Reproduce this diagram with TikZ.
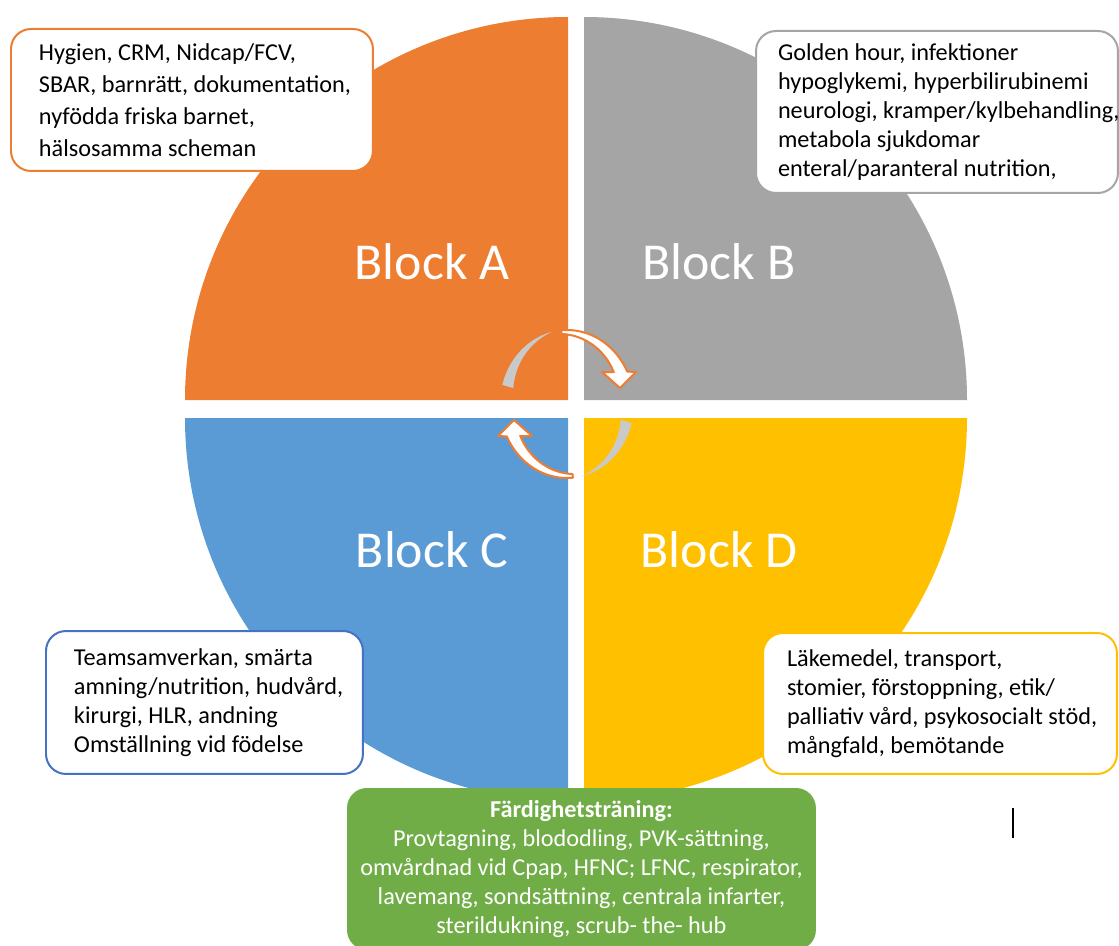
\documentclass[tikz,border=0pt]{standalone}
\usepackage{fontspec}
\setmainfont{Carlito}
\definecolor{blockA}{HTML}{ED7D31}
\definecolor{blockB}{HTML}{A5A5A5}
\definecolor{blockC}{HTML}{5B9BD5}
\definecolor{blockD}{HTML}{FFC000}
\definecolor{boxC}{HTML}{4472C4}
\definecolor{skills}{HTML}{70AD47}
\definecolor{crescent}{HTML}{C9C9C9}

\begin{document}
\begin{tikzpicture}[x=0.02cm, y=-0.02cm,
        topic/.style={draw, line width=0.04cm, rounded corners=0.4cm, fill=white,
            align=left, anchor=north west, inner sep=0pt,
            font=\fontsize{13.8}{16.6}\selectfont},
        lpad/.style={execute at begin node={\leftskip=#1\rightskip=0pt plus 1fil minus 1cm
            \spaceskip=0pt\xspaceskip=0pt}},
        blocklabel/.style={text=white, font=\fontsize{29.5}{35}\selectfont},
        turn/.style={fill=white, draw=blockA, line width=0.04cm, line join=round}]
        \useasboundingbox (0,0) rectangle (1119,946);
        \clip (0,0) rectangle (1119,946);
        % the four quarters
        \fill[blockA] (568,400) -- (185,400) arc[start angle=180, end angle=270, radius=383] -- cycle;
        \fill[blockB] (584,400) -- (584,17) arc[start angle=270, end angle=360, radius=383] -- cycle;
        \fill[blockC] (568,418) -- (185,418) arc[start angle=180, end angle=90, radius=383] -- cycle;
        \fill[blockD] (584,418) -- (967,418) arc[start angle=0, end angle=90, radius=383] -- cycle;
        \node[blocklabel] (labA) at (432,262) {Block A};
        \node[blocklabel] (labB) at (719,262) {Block B};
        \node[blocklabel] (labC) at (432,550) {Block C};
        \node[blocklabel] (labD) at (719,550) {Block D};
        % turning arrows in the middle
        \foreach \rot in {0,180} {
            \begin{scope}[rotate around={\rot:(567,404)}]
                \fill[crescent] plot[domain=195:257, samples=20] ({567+67*cos(\x)},{404+74*sin(\x)})
                    -- plot[domain=257:195, samples=20]
                    ({567+(1-0.17*(257-\x)/62)*67*cos(\x)},{404+(1-0.17*(257-\x)/62)*74*sin(\x)}) -- cycle;
                \draw[turn] plot[domain=265:334, samples=25] ({567+67*cos(\x)},{404+74*sin(\x)})
                    -- (636,372) -- (620,388) -- (602,372) -- (614,372)
                    -- plot[domain=328:265, samples=25]
                    ({567+(0.82+0.13*(328-\x)/63)*67*cos(\x)},{404+(0.82+0.13*(328-\x)/63)*74*sin(\x)}) -- cycle;
            \end{scope}
        }
        % topic boxes
        \node[topic, draw=blockA, text width=7.24cm, minimum height=2.84cm, lpad=0.56cm,
            font=\fontsize{13.8}{18.1}\selectfont] (boxA) at (10,28)
            {Hygien, CRM, Nidcap/FCV,\\ SBAR, barnrätt, dokumentation,\\ nyfödda friska barnet,\\ hälsosamma scheman};
        \node[topic, draw=blockB, text width=7.24cm, minimum height=3.24cm, lpad=0.44cm] (boxB) at (755,30)
            {Golden hour, infektioner\\ hypoglykemi, hyperbilirubinemi\\ neurologi, kramper/kylbehandling,\\ metabola sjukdomar\\ enteral/paranteral nutrition,};
        \node[topic, draw=boxC, text width=6.34cm, minimum height=2.86cm, lpad=0.56cm] (boxC) at (45,630)
            {Teamsamverkan, smärta\\ amning/nutrition, hudvård,\\ kirurgi, HLR, andning\\ Omställning vid födelse};
        \node[topic, draw=blockD, text width=7.08cm, minimum height=2.82cm, lpad=0.48cm] (boxD) at (762,632)
            {Läkemedel, transport,\\ stomier, förstoppning, etik/\\ palliativ vård, psykosocialt stöd,\\ mångfald, bemötande};
        \node[topic, draw=none, fill=skills, text=white, align=center, minimum width=9.38cm,
            minimum height=3.24cm, font=\fontsize{13.8}{16.4}\selectfont] (skill) at (346,787)
            {\textbf{Färdighetsträning:}\\ Provtagning, blododling, PVK-sättning,\\ omvårdnad vid Cpap, HFNC; LFNC, respirator,\\ lavemang, sondsättning, centrala infarter,\\ sterildukning, scrub- the- hub};
        \draw[line width=0.03cm] (1013,808) -- (1013,838);
    \end{tikzpicture}
\end{document}
